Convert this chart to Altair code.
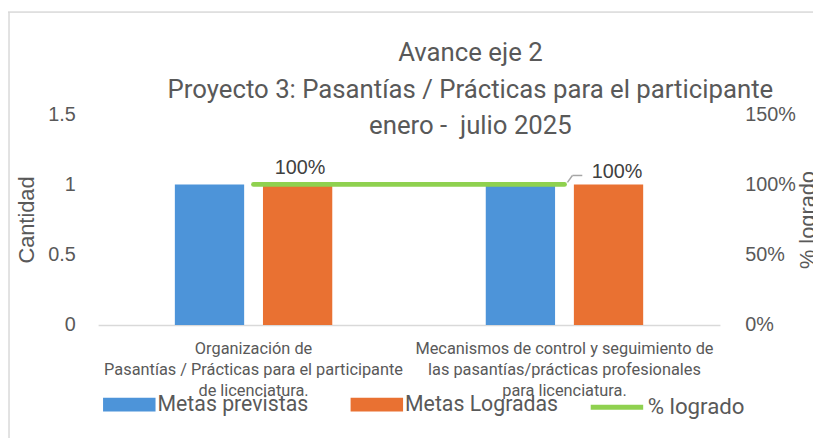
import altair as alt
import pandas as pd

# ---- data ----
categories = [
    "Organización de\nPasantías / Prácticas para el participante\nde licenciatura.",
    "Mecanismos de control y seguimiento  de\nlas pasantías/prácticas profesionales\npara licenciatura.",
]
series = ["Metas previstas", "Metas Logradas"]
metas_previstas = [1, 1]
metas_logradas = [1, 1]
pct_logrado = [1.0, 1.0]
line_name = "% logrado"
title_lines = ["Avance eje 2", "Proyecto 3: Pasantías / Prácticas para el participante", "enero - \u00a0julio 2025"]

bar_colors = ["#4D94D9", "#E97132"]
line_color = "#8FD14F"
text_gray = "#595959"

bars_df = pd.DataFrame(
    [{"cat": c, "serie": series[0], "valor": v} for c, v in zip(categories, metas_previstas)]
    + [{"cat": c, "serie": series[1], "valor": v} for c, v in zip(categories, metas_logradas)]
)
line_df = pd.DataFrame({"cat": categories, "pct": pct_logrado, "serie": [line_name] * len(categories)})

W, H = 628, 213

x_enc = alt.X(
    "cat:N",
    sort=categories,
    scale=alt.Scale(paddingInner=0, paddingOuter=0),
    axis=alt.Axis(
        title=None,
        labelAngle=0,
        labelExpr="split(datum.label, '\\n')",
        labelFont="Roboto",
        labelFontSize=16.5,
        labelLineHeight=21,
        labelColor=text_gray,
        labelPadding=16,
        ticks=False,
        domainColor="#D9D9D9",
        domainWidth=1.5,
        labelLimit=400,
    ),
)

bars = alt.Chart(bars_df).mark_bar().encode(
    x=x_enc,
    xOffset=alt.XOffset("serie:N", sort=series, scale=alt.Scale(paddingInner=0.2135, paddingOuter=0.871)),
    y=alt.Y(
        "valor:Q",
        scale=alt.Scale(domain=[0, 1.5], nice=False),
        axis=alt.Axis(
            title="Cantidad",
            values=[0, 0.5, 1, 1.5],
            labelExpr="datum.value == 0 ? '0' : format(datum.value, '')",
            grid=False,
            ticks=False,
            domain=False,
            labelFont="Liberation Sans",
            labelFontSize=20,
            labelColor=text_gray,
            labelPadding=23,
            titleFont="Liberation Sans",
            titleFontSize=22,
            titleFontWeight="normal",
            titleColor=text_gray,
            titlePadding=9,
        ),
    ),
    color=alt.Color(
        "serie:N",
        sort=series,
        scale=alt.Scale(domain=series, range=bar_colors),
        legend=alt.Legend(
            title=None,
            orient="none",
            direction="horizontal",
            legendX=5,
            legendY=267,
            symbolType="M-1,-0.264H1V0.264H-1Z",
            symbolSize=2809,
            symbolStrokeWidth=0,
            symbolOpacity=1,
            labelFont="Roboto",
            labelFontSize=21.5,
            labelColor=text_gray,
            labelOffset=2,
            columnPadding=42,
            labelLimit=300,
        ),
    ),
)

line = alt.Chart(line_df).mark_line(strokeWidth=5, strokeCap="round").encode(
    x=alt.X("cat:N", sort=categories),
    y=alt.Y(
        "pct:Q",
        scale=alt.Scale(domain=[0, 1.5], nice=False),
        axis=alt.Axis(
            orient="right",
            title="% logrado",
            values=[0, 0.5, 1, 1.5],
            format=".0%",
            grid=False,
            ticks=False,
            domain=False,
            labelFont="Liberation Sans",
            labelFontSize=20,
            labelColor=text_gray,
            labelPadding=25,
            titleFont="Liberation Sans",
            titleFontSize=22,
            titleFontWeight="normal",
            titleColor=text_gray,
            titleAngle=-90,
            titlePadding=24,
        ),
    ),
    stroke=alt.Stroke(
        "serie:N",
        scale=alt.Scale(domain=[line_name], range=[line_color]),
        legend=alt.Legend(
            title=None,
            orient="none",
            legendX=495,
            legendY=267,
            symbolType="stroke",
            symbolSize=2809,
            symbolStrokeWidth=5,
            labelFont="Roboto",
            labelFontSize=22.5,
            labelColor=text_gray,
            labelOffset=2,
            labelLimit=300,
        ),
    ),
)

lbl_base = alt.Chart(line_df).encode(
    x=alt.X("cat:N", sort=categories),
    y=alt.Y("pct:Q", scale=alt.Scale(domain=[0, 1.5], nice=False), axis=None),
    text=alt.Text("pct:Q", format=".0%"),
)
lbl1 = lbl_base.transform_filter(alt.datum.cat == categories[0]).mark_text(
    font="Liberation Sans", fontSize=20, color="#404040", dx=47, dy=-16
)
lbl2 = lbl_base.transform_filter(alt.datum.cat == categories[1]).mark_text(
    font="Liberation Sans", fontSize=20, color="#404040", dx=53, dy=-12
)

leader_base = alt.Chart(line_df).transform_filter(alt.datum.cat == categories[1]).encode(
    x=alt.X("cat:N", sort=categories),
    x2=alt.X2("cat:N"),
    y=alt.Y("pct:Q", scale=alt.Scale(domain=[0, 1.5], nice=False), axis=None),
    y2=alt.Y2("pct:Q"),
)
leader1 = leader_base.mark_rule(color="#A6A6A6", strokeWidth=1.5, xOffset=3, x2Offset=8, yOffset=-2, y2Offset=-9)
leader2 = leader_base.mark_rule(color="#A6A6A6", strokeWidth=1.5, xOffset=8, x2Offset=18, yOffset=-9, y2Offset=-9)

frame_top = alt.Chart(line_df).mark_rule(color="#D9D9D9", strokeWidth=1).encode(
    x=alt.value(-91), x2=alt.value(W + 200), y=alt.value(-103)
)
frame_left = alt.Chart(line_df).mark_rule(color="#D9D9D9", strokeWidth=1).encode(
    x=alt.value(-90), y=alt.value(-103), y2=alt.value(H + 200)
)

chart = (
    alt.layer(frame_top, frame_left, bars, line, leader1, leader2, lbl1, lbl2)
    .resolve_scale(y="independent", color="independent")
    .properties(
        width=W,
        height=H,
        background="white",
        autosize=alt.AutoSizeParams(type="none"),
        padding={"left": 91, "top": 105, "right": 94, "bottom": 112},
        title=alt.TitleParams(
            text=title_lines,
            font="Roboto",
            fontSize=26,
            fontWeight="normal",
            color=text_gray,
            lineHeight=37,
            anchor="middle",
            dx=62,
            offset=-129,
        ),
    )
    .configure_view(strokeWidth=0, stroke="transparent")
)

chart.save("out.html", embed_options={"renderer": "svg", "actions": False})
